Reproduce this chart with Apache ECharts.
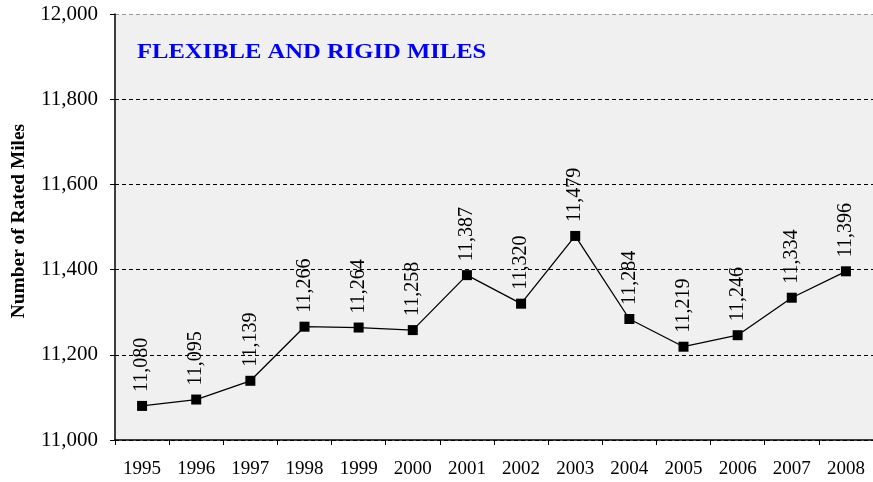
<!DOCTYPE html>
<html>
<head>
<meta charset="utf-8">
<script src="https://cdn.jsdelivr.net/npm/echarts@6/dist/echarts.min.js"></script>
<style>
html,body{margin:0;padding:0;background:#fff;}
#main{width:873px;height:482px;}
</style>
</head>
<body>
<div id="main"></div>
<script>
var years = ['1995','1996','1997','1998','1999','2000','2001','2002','2003','2004','2005','2006','2007','2008'];
var miles = [11080,11095,11139,11266,11264,11258,11387,11320,11479,11284,11219,11246,11334,11396];

var fontT = '"Liberation Serif", "Times New Roman", serif';

var myChart = echarts.init(document.getElementById('main'));
var option = {
    animation: false,
    textStyle: { fontFamily: fontT },
    grid: { left: 115, right: 0, top: 14, bottom: 42, show: true, backgroundColor: '#f0f0f0', borderWidth: 0, containLabel: false, outerBoundsMode: 'none' },
    graphic: [
        { type: 'text', x: 137, y: 53, scaleX: 1.23, style: { text: 'FLEXIBLE AND RIGID MILES', fill: '#0000ff', font: 'bold 20px ' + fontT, align: 'left', verticalAlign: 'middle' } },
        { type: 'text', x: 19, y: 221, rotation: Math.PI / 2, scaleX: 1.02, style: { text: 'Number of Rated Miles', fill: '#000', font: 'bold 19px ' + fontT, align: 'center', verticalAlign: 'middle' } }
    ],
    xAxis: {
        type: 'category',
        data: years,
        boundaryGap: true,
        axisLine: { lineStyle: { color: '#000', width: 1.5 } },
        axisTick: { show: true, length: 5, lineStyle: { color: '#000' } },
        axisLabel: { color: '#000', fontSize: 19, margin: 20, fontFamily: fontT },
        splitLine: { show: false }
    },
    yAxis: {
        type: 'value',
        min: 11000,
        max: 12000,
        interval: 200,
        axisLine: { show: true, lineStyle: { color: '#000', width: 1.5 } },
        axisTick: { show: true, length: 5, lineStyle: { color: '#000' } },
        axisLabel: {
            color: '#000', fontSize: 21, margin: 17, fontFamily: fontT,
            formatter: function (v) { return v.toLocaleString('en-US'); }
        },
        splitLine: { show: true, lineStyle: { color: ['#000', '#000', '#000', '#000', '#000', '#999'], type: [4, 3], width: 1 } }
    },
    series: [
        {
            type: 'line',
            data: miles,
            symbol: 'rect',
            symbolSize: 10,
            itemStyle: { color: '#000' },
            lineStyle: { color: '#000', width: 1.3 },
            label: {
                show: true,
                position: 'top',
                distance: 9,
                rotate: 90,
                align: 'left',
                verticalAlign: 'middle',
                color: '#000',
                fontSize: 20,
                fontFamily: fontT,
                formatter: function (p) { return p.value.toLocaleString('en-US'); }
            }
        }
    ]
};
myChart.setOption(option);
</script>
</body>
</html>
